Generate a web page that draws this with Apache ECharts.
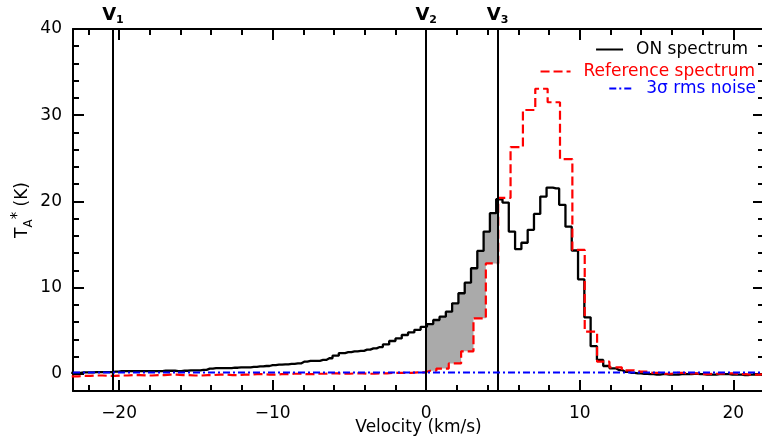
<!DOCTYPE html>
<html lang="en">
<head>
<meta charset="UTF-8">
<title>ON / Reference spectrum</title>
<script src="https://cdn.jsdelivr.net/npm/echarts@6/dist/echarts.min.js"></script>
<style>
    html, body { margin: 0; padding: 0; background: #fff; }
    #chart { width: 762px; height: 441px; }
</style>
</head>
<body>
<div id="chart"></div>
<script>
// ON spectrum: first channel centre and channel width (km/s), T_A* per channel (K)
var onStart = -23.115, onStep = 0.41;
var onT = [
    0.1, 0.1, 0.15, 0.15, 0.2, 0.2, 0.2, 0.25, 0.3, 0.3,
    0.3, 0.3, 0.3, 0.3, 0.3, 0.35, 0.35, 0.3, 0.35, 0.4,
    0.4, 0.45, 0.6, 0.65, 0.65, 0.65, 0.7, 0.75, 0.75, 0.8,
    0.85, 0.9, 1.0, 1.05, 1.1, 1.15, 1.2, 1.4, 1.5, 1.5,
    1.6, 1.8, 2.1, 2.4, 2.5, 2.6, 2.65, 2.8, 2.95, 3.1,
    3.4, 3.8, 4.1, 4.5, 4.8, 5.1, 5.45,
    5.77, 6.24, 6.62, 7.2, 8.17, 9.34, 10.57, 12.24, 14.25, 16.5,
    18.63, 20.25, 19.86, 16.5, 14.45, 15.2, 16.7, 18.55, 20.56, 21.6,
    21.5, 19.6, 17.07, 14.3, 10.96, 6.55, 3.2, 1.6, 0.9, 0.63,
    0.43, 0.23,
    0.1, 0.05, 0.0, -0.05, -0.1, -0.05, -0.1, -0.1, -0.05, -0.05,
    0.0, -0.05, -0.1, -0.1, -0.05, -0.05, -0.1, -0.1, -0.15, -0.1,
    -0.1, -0.15, -0.15
];

// reference spectrum (coarser channels)
var refStart = -23.0825, refStep = 0.805;
var refT = [
    -0.3, -0.25, -0.2, -0.25, -0.2, -0.15, -0.2, -0.15, -0.1, -0.15,
    -0.2, -0.15, -0.1, -0.15, -0.1, -0.05, -0.1, -0.05, 0.0, -0.05,
    0.0, 0.05, 0.0, 0.05, 0.0, 0.05, 0.1, 0.1,
    0.15, 0.35, 0.6, 1.2, 2.6, 6.43, 12.8, 20.4, 26.3, 30.6,
    33.07, 31.5, 24.9, 14.37, 4.88, 1.4, 0.75, 0.4, 0.25,
    0.1, 0.0, 0.1, 0.05, -0.05, 0.0, 0.05, -0.05, -0.1, -0.05, -0.1
];

// 3 sigma rms noise level
var noiseV = [-23, 22];
var noiseT = [0.15, 0.15];

// velocity markers V1, V2, V3
var markV = [-20.4, 0, 4.65];
var markSub = ['1', '2', '3'];

var xLabels = [-20, -10, 0, 10, 20];
var yLabels = [0, 10, 20, 30, 40];

var FONT = 'DejaVu Sans';

function grid(start, step, n) {
    var out = [];
    for (var i = 0; i < n; i++) out.push(+(start + i * step).toFixed(4));
    return out;
}
var onV = grid(onStart, onStep, onT.length);
var refV = grid(refStart, refStep, refT.length);

function pairs(xs, ys) {
    return xs.map(function(x, i) { return [x, ys[i]]; });
}

// edge of a step spectrum between a and b
function stepEdge(vs, ts, dv, a, b) {
    var pts = [];
    for (var i = 0; i < vs.length; i++) {
        var lo = Math.max(vs[i] - dv / 2, a), hi = Math.min(vs[i] + dv / 2, b);
        if (hi <= lo) continue;
        pts.push([lo, ts[i]], [hi, ts[i]]);
    }
    return pts;
}

function minus(v) {
    return String(v).replace('-', '\u2212');
}

var tickStyle = { color: '#000', width: 2 };

function xAxis(pos, labels) {
    return {
        type: 'value', position: pos, min: -23, max: 22, splitNumber: 5,
        axisLine: { show: true, onZero: false, lineStyle: { color: '#000', width: 2 } },
        axisTick: { show: true, inside: true, length: 11, lineStyle: tickStyle },
        minorTick: { show: true, splitNumber: 5, length: 6, lineStyle: tickStyle },
        splitLine: { show: false },
        axisLabel: {
            show: labels, margin: 14, color: '#000', fontFamily: FONT, fontSize: 17,
            formatter: function(v) { return xLabels.indexOf(v) >= 0 ? minus(v) : ''; }
        }
    };
}
function yAxis(pos, labels) {
    return {
        type: 'value', position: pos, min: -2, max: 40, splitNumber: 4,
        axisLine: { show: true, onZero: false, lineStyle: { color: '#000', width: 2 } },
        axisTick: { show: true, inside: true, length: 11, lineStyle: tickStyle },
        minorTick: { show: true, splitNumber: 5, length: 6, lineStyle: tickStyle },
        splitLine: { show: false },
        axisLabel: {
            show: labels, margin: 11, color: '#000', fontFamily: FONT, fontSize: 17,
            formatter: function(v) { return yLabels.indexOf(v) >= 0 ? String(v) : ''; }
        }
    };
}

var xa = [xAxis('bottom', true), xAxis('top', false)];
xa[0].name = 'Velocity (km/s)';
xa[0].nameLocation = 'middle';
xa[0].nameGap = 28;
xa[0].nameMoveOverlap = false;
xa[0].nameTextStyle = { color: '#000', fontFamily: FONT, fontSize: 17 };

var ya = [yAxis('left', true), yAxis('right', false)];
ya[0].name = '{t|T}{s|A}{p|*}{t| (K)}';
ya[0].nameLocation = 'middle';
ya[0].nameRotate = 90;
ya[0].nameGap = 38;
ya[0].nameMoveOverlap = false;
ya[0].nameTextStyle = {
    color: '#000', fontFamily: FONT,
    rich: {
        t: { fontSize: 17, lineHeight: 24, fontFamily: FONT, color: '#000' },
        s: { fontSize: 12, lineHeight: 12, verticalAlign: 'bottom', fontFamily: FONT, color: '#000' },
        p: { fontSize: 15, lineHeight: 14, verticalAlign: 'top', fontFamily: FONT, color: '#000' }
    }
};

function legendFor(name, color, right, top, width) {
    return {
        data: [name], orient: 'vertical', right: right, top: top, padding: 0,
        itemWidth: width, itemHeight: 12, selectedMode: false,
        itemStyle: { color: 'rgba(0,0,0,0)', borderColor: 'rgba(0,0,0,0)', borderWidth: 0 },
        textStyle: { color: color, fontFamily: FONT, fontSize: 17, padding: [0, 0, 0, 8] }
    };
}

var chart = echarts.init(document.getElementById('chart'), null, { renderer: 'canvas' });
chart.setOption({
    animation: false,
    backgroundColor: '#fff',
    grid: { left: 73, right: -2, top: 29, bottom: 50, containLabel: false, outerBoundsMode: 'none' },
    xAxis: xa,
    yAxis: ya,
    legend: [
        legendFor('ON spectrum', '#000', 14, 41, 27),
        legendFor('Reference spectrum', '#ff0000', 7, 63, 30),
        legendFor('3\u03c3 rms noise', '#0000ff', 6, 80, 24)
    ],
    series: [
        {
            type: 'custom', name: 'fill', coordinateSystem: 'cartesian2d', z: 1, silent: true,
            data: [[0, 0]],
            renderItem: function(params, api) {
                var top = stepEdge(onV, onT, onStep, markV[1], markV[2]);
                var bot = stepEdge(refV, refT, refStep, markV[1], markV[2]).reverse();
                var pts = top.concat(bot).map(function(p) { return api.coord(p); });
                return { type: 'polygon', shape: { points: pts }, style: { fill: '#aaaaaa' } };
            }
        },
        {
            type: 'line', name: 'ON spectrum', step: 'middle', z: 3,
            data: pairs(onV, onT), showSymbol: false, symbol: 'none',
            lineStyle: { color: '#000', width: 2.3 }, itemStyle: { color: '#000' }
        },
        {
            type: 'line', name: 'Reference spectrum', step: 'middle', z: 4,
            data: pairs(refV, refT), showSymbol: false, symbol: 'none',
            lineStyle: { color: '#ff0000', width: 2.2, type: [9, 4] }, itemStyle: { color: '#ff0000' }
        },
        {
            type: 'line', name: '3\u03c3 rms noise', z: 5,
            data: pairs(noiseV, noiseT), showSymbol: false, symbol: 'none',
            lineStyle: { color: '#0000ff', width: 2, type: [7, 3, 2, 3] }, itemStyle: { color: '#0000ff' },
            markLine: {
                silent: true, symbol: 'none', animation: false,
                lineStyle: { color: '#000', width: 2, type: 'solid' },
                label: {
                    position: 'end', distance: 3,
                    formatter: function(p) { return '{v|V}{s|' + p.name + '}'; },
                    rich: {
                        v: { fontSize: 18, lineHeight: 22, fontWeight: 'bold', fontFamily: FONT, color: '#000' },
                        s: { fontSize: 11, lineHeight: 12, verticalAlign: 'bottom', fontWeight: 'bold', fontFamily: FONT, color: '#000' }
                    }
                },
                data: markV.map(function(v, i) { return { xAxis: v, name: markSub[i] }; })
            }
        }
    ]
});
</script>
</body>
</html>
